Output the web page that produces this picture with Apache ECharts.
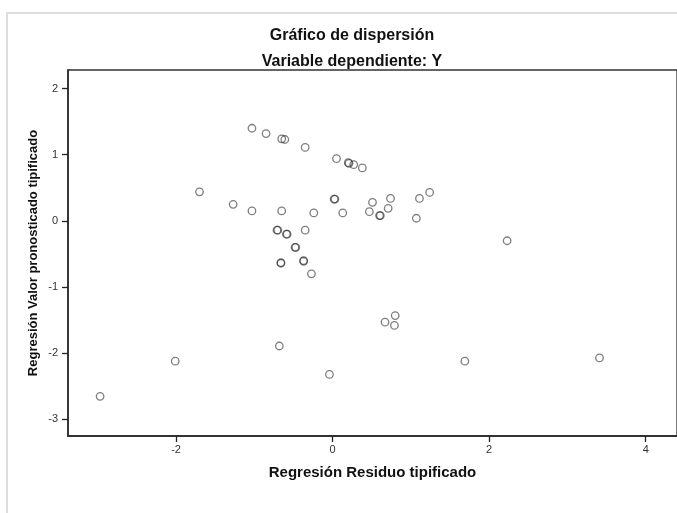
<!DOCTYPE html>
<html>
<head>
<meta charset="utf-8">
<script src="https://cdn.jsdelivr.net/npm/echarts@6/dist/echarts.min.js"></script>
<style>
  html, body { margin: 0; padding: 0; background: #fff; }
  #chart { width: 677px; height: 513px; }
</style>
</head>
<body>
<div id="chart"></div>
<script>
// residuo tipificado (x) / valor pronosticado tipificado (y)
const residuo = [
  -1.03, -0.85, -0.65, -0.61, -0.35, 0.05, 0.20, 0.21, 0.27, 0.38,
  -1.70, -1.27, -1.03, -0.65, -0.24, 0.02, 0.03, 0.13, 0.47, 0.51,
  0.60, 0.61, 0.71, 0.74, 1.07, 1.11, 1.24, 2.23,
  -0.71, -0.70, -0.59, -0.58, -0.35, -0.48, -0.47, -0.66, -0.66, -0.37, -0.37, -0.27,
  -2.97, -2.01, -0.68, -0.04, 0.67, 0.80, 0.79, 1.69, 3.41
];
const pronosticado = [
  1.40, 1.32, 1.24, 1.23, 1.11, 0.94, 0.88, 0.87, 0.85, 0.80,
  0.44, 0.25, 0.15, 0.15, 0.12, 0.33, 0.33, 0.12, 0.14, 0.28,
  0.08, 0.08, 0.19, 0.34, 0.04, 0.34, 0.43, -0.30,
  -0.14, -0.14, -0.20, -0.20, -0.14, -0.40, -0.40, -0.63, -0.64, -0.60, -0.61, -0.80,
  -2.65, -2.12, -1.89, -2.32, -1.53, -1.43, -1.58, -2.12, -2.07
];
const xTicks = [-2, 0, 2, 4];
const yTicks = [-3, -2, -1, 0, 1, 2];

const points = residuo.map((v, i) => [v, pronosticado[i]]);

const chart = echarts.init(document.getElementById("chart"));
const font = "'Liberation Sans', Arial, sans-serif";

chart.setOption({
  backgroundColor: "#fff",
  animation: false,
  textStyle: { fontFamily: font },
  graphic: [
    {
      type: "rect",
      shape: { x: 7, y: 13, width: 720, height: 540 },
      style: { fill: "none", stroke: "#dcdcdc", lineWidth: 2 },
      silent: true,
    },
  ],
  title: [
    {
      text: "Gráfico de dispersión",
      left: 347, top: 23, textAlign: "center",
      textStyle: { fontFamily: font, fontSize: 16, fontWeight: "bold", color: "#111" },
    },
    {
      text: "Variable dependiente: Y",
      left: 347, top: 49, textAlign: "center",
      textStyle: { fontFamily: font, fontSize: 16, fontWeight: "bold", color: "#111" },
    },
  ],
  grid: { left: 68, right: -6, top: 70, bottom: 77, show: true, borderColor: "#333", borderWidth: 1.3 },
  xAxis: {
    type: "value",
    min: -3.38,
    max: 4.40,
    name: "Regresión Residuo tipificado",
    nameLocation: "middle",
    nameGap: 29,
    nameMoveOverlap: false,
    nameTextStyle: { fontFamily: font, fontSize: 15, fontWeight: "bold", color: "#111" },
    axisLine: { show: true, onZero: false, lineStyle: { color: "#222", width: 1.5 } },
    axisTick: { show: true, length: 6, customValues: xTicks, lineStyle: { color: "#222", width: 1.3 } },
    axisLabel: { customValues: xTicks, color: "#333", fontSize: 11, margin: 8 },
    splitLine: { show: false },
  },
  yAxis: {
    type: "value",
    min: -3.25,
    max: 2.28,
    name: "Regresión Valor pronosticado tipificado",
    nameLocation: "middle",
    nameGap: 28,
    nameMoveOverlap: false,
    nameTextStyle: { fontFamily: font, fontSize: 13, fontWeight: "bold", color: "#111" },
    axisLine: { show: true, onZero: false, lineStyle: { color: "#222", width: 1.5 } },
    axisTick: { show: true, length: 6, customValues: yTicks, lineStyle: { color: "#222", width: 1.3 } },
    axisLabel: { customValues: yTicks, color: "#333", fontSize: 11, margin: 10 },
    splitLine: { show: false },
  },
  series: [
    {
      type: "scatter",
      data: points,
      symbol: "circle",
      symbolSize: 7.5,
      itemStyle: { color: "rgba(0,0,0,0)", borderColor: "rgba(40,40,40,0.75)", borderWidth: 1.3 },
    },
  ],
});
</script>
</body>
</html>
